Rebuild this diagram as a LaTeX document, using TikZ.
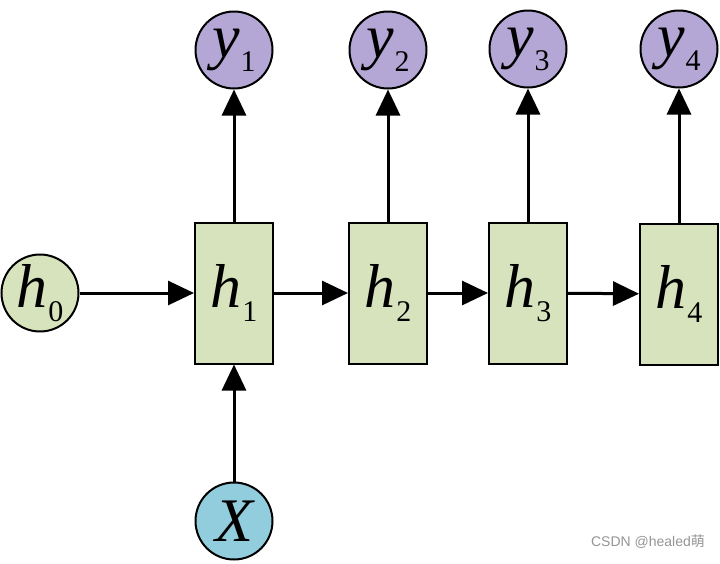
\documentclass[tikz,border=0pt]{standalone}
\usepackage{fontspec}
\setmainfont{Liberation Serif}
\newfontfamily\wmfont{Liberation Sans}
\newfontfamily\cjk{Noto Sans CJK SC}
\usepackage{xcolor}
\usepackage{tikz}
\usetikzlibrary{arrows.meta}

\definecolor{hgreen}{RGB}{214,227,188}
\definecolor{ypurple}{RGB}{180,167,214}
\definecolor{xblue}{RGB}{146,205,221}

\newcommand{\rnnlbl}[2]{{\fontsize{62}{62}\selectfont\itshape #1}\kern0.5pt\raisebox{-14pt}{\fontsize{30}{30}\selectfont #2}}

\begin{document}
\begin{tikzpicture}[x=1pt, y=-1pt,
    state/.style={circle, draw, line width=2pt, inner sep=0pt, minimum size=77pt},
    hbox/.style={rectangle, draw, line width=2pt, fill=hgreen, inner sep=0pt, minimum width=78pt, minimum height=141pt},
    arr/.style={line width=3pt, -{Triangle[length=26pt,width=24pt]}}]
    \useasboundingbox (0,0) rectangle (720,563);

    \node[state, fill=hgreen] (h0) at (40,293) {\rnnlbl{h}{0}};
    \node[hbox] (h1) at (234,293) {\rnnlbl{h}{1}};
    \node[hbox] (h2) at (388,293) {\rnnlbl{h}{2}};
    \node[hbox] (h3) at (528,293) {\rnnlbl{h}{3}};
    \node[hbox] (h4) at (679,294) {\rnnlbl{h}{4}};

    \node[state, fill=ypurple] (y1) at (234,50) {\rnnlbl{y}{1}};
    \node[state, fill=ypurple] (y2) at (388,50) {\rnnlbl{y}{2}};
    \node[state, fill=ypurple] (y3) at (528,49) {\rnnlbl{y}{3}};
    \node[state, fill=ypurple] (y4) at (679,49) {\rnnlbl{y}{4}};

    \node[state, fill=xblue] (X) at (234,521) {\fontsize{62}{62}\selectfont\itshape X};

    \draw[arr] (h0) -- (h1);
    \draw[arr] (h1) -- (h2);
    \draw[arr] (h2) -- (h3);
    \draw[arr] (h3) -- (h4);
    \draw[arr] (X) -- (h1);
    \draw[arr] (h1) -- (y1);
    \draw[arr] (h2) -- (y2);
    \draw[arr] (h3) -- (y3);
    \draw[arr] (h4) -- (y4);

    \node[text=black!42, inner sep=0pt] (mark) at (648,542) {\fontsize{14}{14}\selectfont\wmfont CSDN @healed{\cjk 萌}};
\end{tikzpicture}
\end{document}
